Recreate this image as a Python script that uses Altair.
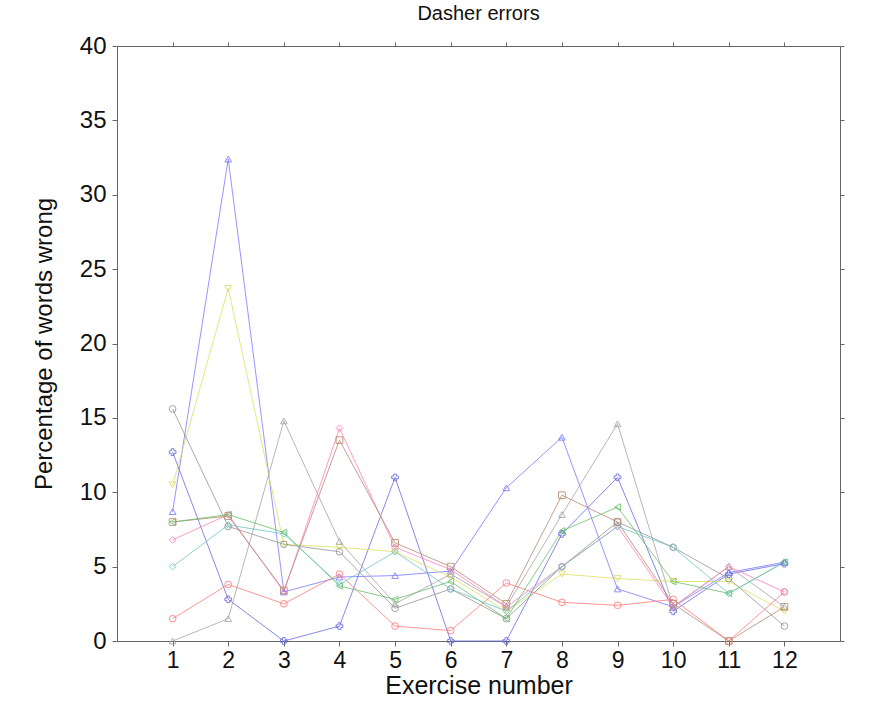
import altair as alt
import pandas as pd

exercises = [1, 2, 3, 4, 5, 6, 7, 8, 9, 10, 11, 12]
y_ticks = [0, 5, 10, 15, 20, 25, 30, 35, 40]

series_names = ["S1", "S2", "S3", "S4", "S5", "S6", "S7", "S8", "S9", "S10"]
s1 = [8.7, 32.4, 3.3, 4.3, 4.4, 4.7, 10.3, 13.7, 3.5, 2.3, 4.6, 5.3]
s2 = [12.7, 2.8, 0.0, 1.0, 11.0, 0.0, 0.0, 7.2, 11.0, 2.0, 4.5, 5.2]
s3 = [10.5, 23.7, 6.5, 6.3, 6.0, 4.3, 2.0, 4.5, 4.2, 4.0, 4.0, 2.0]
s4 = [15.6, 7.7, 6.5, 6.0, 2.2, 3.5, 1.5, 5.0, 8.0, 6.3, 4.2, 1.0]
s5 = [0.0, 1.5, 14.8, 6.7, 2.5, 4.5, 2.3, 8.5, 14.6, 2.3, 5.0, 2.3]
s6 = [1.5, 3.8, 2.5, 4.5, 1.0, 0.7, 3.9, 2.6, 2.4, 2.8, 0.0, 3.3]
s7 = [6.8, 8.5, 3.3, 14.3, 6.3, 4.8, 2.3, 5.0, 7.7, 2.3, 5.0, 3.3]
s8 = [8.0, 8.4, 3.4, 13.5, 6.6, 5.0, 2.5, 9.8, 8.0, 2.5, 0.0, 2.3]
s9 = [8.0, 8.5, 7.3, 3.7, 2.8, 4.0, 1.5, 7.4, 9.0, 4.0, 3.2, 5.3]
s10 = [5.0, 7.8, 7.2, 3.8, 6.0, 3.5, 2.0, 5.0, 7.7, 6.3, 3.2, 5.3]
all_series = [s1, s2, s3, s4, s5, s6, s7, s8, s9, s10]

colors = ["#7a7aff", "#6a6ae0", "#dede60", "#959595", "#a5a5a5",
          "#ff7a7a", "#ff80bb", "#b88a70", "#6abf6a", "#70c4c4"]
shapes = ["triangle-up", "cross", "triangle-down", "circle", "triangle-up",
          "circle", "diamond", "square", "triangle-left", "diamond"]

rows = []
for name, vals in zip(series_names, all_series):
    for x, v in zip(exercises, vals):
        rows.append({"series": name, "exercise": x, "pct": v})
df = pd.DataFrame(rows)

FONT = "Liberation Sans"
xscale = alt.Scale(domain=[0, 13], nice=False, zero=False)
yscale = alt.Scale(domain=[0, 40], nice=False)
color = alt.Color("series:N", scale=alt.Scale(domain=series_names, range=colors), legend=None)
shape = alt.Shape("series:N", scale=alt.Scale(domain=series_names, range=shapes), legend=None)

x_bottom = alt.X("exercise:Q", scale=xscale,
                 axis=alt.Axis(values=exercises, title="Exercise number", orient="bottom",
                               labelFontSize=23, titleFontSize=25, labelPadding=3,
                               titlePadding=1, grid=False, tickSize=5))
y_left = alt.Y("pct:Q", scale=yscale,
               axis=alt.Axis(values=y_ticks, title="Percentage of words wrong", orient="left",
                             labelFontSize=24, titleFontSize=24, labelPadding=6,
                             titlePadding=23, grid=False, tickSize=5))

base = alt.Chart(df)
lines = base.mark_line(strokeWidth=1, opacity=0.8).encode(
    x=x_bottom, y=y_left, color=color, detail="series:N"
)
points = base.mark_point(filled=False, size=45, strokeWidth=1, opacity=0.85).encode(
    x=alt.X("exercise:Q", scale=xscale, axis=None),
    y=alt.Y("pct:Q", scale=yscale, axis=None),
    color=color, shape=shape
)

ticks_top = base.mark_point(opacity=0).encode(
    x=alt.X("exercise:Q", scale=xscale,
            axis=alt.Axis(values=exercises, orient="top", labels=False, title=None,
                          grid=False, tickSize=4)),
    y=alt.Y("pct:Q", scale=yscale,
            axis=alt.Axis(values=y_ticks, orient="right", labels=False, title=None,
                          grid=False, tickSize=4)),
)

chart = alt.layer(lines, points, ticks_top).resolve_axis(
    x="independent", y="independent"
).properties(
    width=723, height=595,
    padding={"left": 117, "top": 46, "right": 32, "bottom": 70},
    autosize=alt.AutoSizeParams(type="none"),
    title=alt.Title("Dasher errors", fontSize=20, font=FONT, fontWeight="normal",
                    color="#111", offset=10, anchor="middle"),
).configure_axis(
    labelFont=FONT, titleFont=FONT, titleFontWeight="normal",
    labelColor="#111", titleColor="#111",
    domainColor="#666", tickColor="#666",
).configure_view(
    stroke="#666", strokeWidth=1
)

chart.save("out.html", embed_options={"renderer": "svg", "actions": False})
